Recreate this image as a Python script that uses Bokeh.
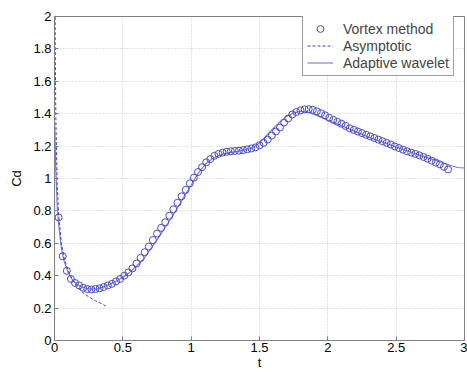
from bokeh.plotting import figure
from bokeh.embed import file_html
from bokeh.resources import INLINE
from bokeh.models import Legend, LegendItem, FixedTicker, Range1d

# Vortex method (circles)
vortex_t = [0.03, 0.06, 0.09, 0.12, 0.15, 0.18, 0.21, 0.24, 0.27, 0.30,
            0.33, 0.36, 0.39, 0.42, 0.45, 0.48, 0.51, 0.54, 0.57, 0.60,
            0.63, 0.66, 0.69, 0.72, 0.75, 0.78, 0.81, 0.84, 0.87, 0.90,
            0.93, 0.96, 0.99, 1.02, 1.05, 1.08, 1.11, 1.14, 1.17, 1.20,
            1.23, 1.26, 1.29, 1.32, 1.35, 1.38, 1.41, 1.44, 1.47, 1.50,
            1.53, 1.56, 1.59, 1.62, 1.65, 1.68, 1.71, 1.74, 1.77, 1.80,
            1.83, 1.86, 1.89, 1.92, 1.95, 1.98, 2.01, 2.04, 2.07, 2.10,
            2.13, 2.16, 2.19, 2.22, 2.25, 2.28, 2.31, 2.34, 2.37, 2.40,
            2.43, 2.46, 2.49, 2.52, 2.55, 2.58, 2.61, 2.64, 2.67, 2.70,
            2.73, 2.76, 2.79, 2.82, 2.85, 2.88]
vortex_cd = [0.76, 0.52, 0.43, 0.38, 0.355, 0.34, 0.325, 0.318, 0.315, 0.318,
             0.322, 0.33, 0.34, 0.35, 0.365, 0.38, 0.40, 0.42, 0.445, 0.475,
             0.51, 0.545, 0.58, 0.62, 0.66, 0.695, 0.73, 0.77, 0.81, 0.85,
             0.89, 0.93, 0.97, 1.005, 1.04, 1.07, 1.10, 1.12, 1.14, 1.152,
             1.16, 1.165, 1.168, 1.17, 1.172, 1.175, 1.18, 1.185, 1.192, 1.205,
             1.22, 1.24, 1.265, 1.29, 1.315, 1.345, 1.37, 1.395, 1.41, 1.42,
             1.427, 1.428, 1.424, 1.415, 1.403, 1.39, 1.375, 1.362, 1.35, 1.338,
             1.325, 1.31, 1.30, 1.29, 1.28, 1.27, 1.26, 1.25, 1.24, 1.23,
             1.22, 1.21, 1.198, 1.188, 1.178, 1.168, 1.16, 1.152, 1.143, 1.133,
             1.122, 1.11, 1.098, 1.087, 1.072, 1.056]

# Asymptotic (dashed)
asym_t = [0.004, 0.006, 0.01, 0.02, 0.03, 0.05, 0.07, 0.10, 0.13, 0.16,
          0.20, 0.25, 0.30, 0.35, 0.38]
asym_cd = [2.15, 1.76, 1.36, 0.96, 0.78, 0.60, 0.51, 0.43, 0.375, 0.34,
           0.30, 0.27, 0.245, 0.225, 0.21]

# Adaptive wavelet (solid)
wave_t = [0.0, 0.0005, 0.003, 0.01, 0.02, 0.03, 0.05, 0.07, 0.10, 0.13,
          0.16, 0.20, 0.25, 0.30, 0.35, 0.40, 0.45, 0.50, 0.55, 0.60,
          0.65, 0.70, 0.75, 0.80, 0.85, 0.90, 0.95, 1.00, 1.05, 1.10,
          1.15, 1.20, 1.25, 1.30, 1.35, 1.40, 1.45, 1.50, 1.55, 1.60,
          1.65, 1.70, 1.75, 1.80, 1.85, 1.90, 1.95, 2.00, 2.10, 2.20,
          2.30, 2.40, 2.50, 2.60, 2.70, 2.80, 2.90, 2.95, 3.00]
wave_cd = [0.0, 1.35, 1.30, 1.05, 0.82, 0.72, 0.57, 0.49, 0.42, 0.375,
           0.35, 0.33, 0.318, 0.318, 0.328, 0.345, 0.365, 0.39, 0.42, 0.46,
           0.50, 0.56, 0.62, 0.685, 0.75, 0.82, 0.89, 0.96, 1.03, 1.085,
           1.12, 1.14, 1.155, 1.163, 1.17, 1.178, 1.19, 1.22, 1.265, 1.31,
           1.35, 1.385, 1.405, 1.415, 1.41, 1.395, 1.378, 1.36, 1.325, 1.29,
           1.255, 1.225, 1.195, 1.165, 1.135, 1.11, 1.08, 1.068, 1.065]

x_ticks = [0, 0.5, 1, 1.5, 2, 2.5, 3]
y_ticks = [0, 0.2, 0.4, 0.6, 0.8, 1, 1.2, 1.4, 1.6, 1.8, 2]

FONT = "Liberation Sans"

p = figure(width=467, height=374, output_backend="svg", toolbar_location=None,
           x_range=Range1d(0, 3), y_range=Range1d(0, 2),
           frame_width=410, frame_height=324,
           min_border_left=54, min_border_right=3, min_border_top=16, min_border_bottom=34)
p.outline_line_color = "#808080"
p.outline_line_width = 1

r_wave = p.line(wave_t, wave_cd, line_color="#7575e0", line_width=1.1)
r_asym = p.line(asym_t, asym_cd, line_color="#4040c8", line_width=1, line_dash="3 2")
r_vort = p.scatter(vortex_t, vortex_cd, marker="circle", size=7, fill_color=None,
                   line_color="#4848cc", line_width=1)

for ax, ticks in ((p.xaxis, x_ticks), (p.yaxis, y_ticks)):
    ax.ticker = FixedTicker(ticks=ticks)
    ax.major_tick_in = 4
    ax.major_tick_out = 0
    ax.minor_tick_line_color = None
    ax.axis_line_color = "#808080"
    ax.major_tick_line_color = "#808080"
    ax.major_label_text_font = FONT
    ax.major_label_text_font_size = "13px"
    ax.major_label_text_color = "black"
    ax.axis_label_text_font = FONT
    ax.axis_label_text_font_size = "13px"
    ax.axis_label_text_font_style = "normal"
    ax.axis_label_text_color = "black"

p.xaxis.major_label_overrides = {0: "0", 1: "1", 2: "2", 3: "3"}
p.yaxis.major_label_overrides = {0: "0", 1: "1", 2: "2"}
p.xaxis.axis_label = "t"
p.yaxis.axis_label = "Cd"
p.xaxis.major_label_standoff = 2
p.xaxis.axis_label_standoff = 0
p.yaxis.major_label_standoff = 3
p.yaxis.axis_label_standoff = 6

p.grid.grid_line_color = "#c4c4c4"
p.grid.grid_line_dash = "1 2"
p.grid.grid_line_width = 1

legend = Legend(items=[
    LegendItem(label="Vortex method", renderers=[r_vort]),
    LegendItem(label="Asymptotic", renderers=[r_asym]),
    LegendItem(label="Adaptive wavelet", renderers=[r_wave]),
], location=(248, 264))
legend.margin = 0
legend.padding = 4
legend.spacing = 0
legend.label_text_font = FONT
legend.label_text_font_size = "14px"
legend.label_height = 17
legend.glyph_height = 17
legend.glyph_width = 26
legend.label_standoff = 10
legend.border_line_color = "#404040"
legend.border_line_width = 1
legend.background_fill_alpha = 1
p.add_layout(legend)

open("out.html", "w").write(file_html(p, INLINE))
